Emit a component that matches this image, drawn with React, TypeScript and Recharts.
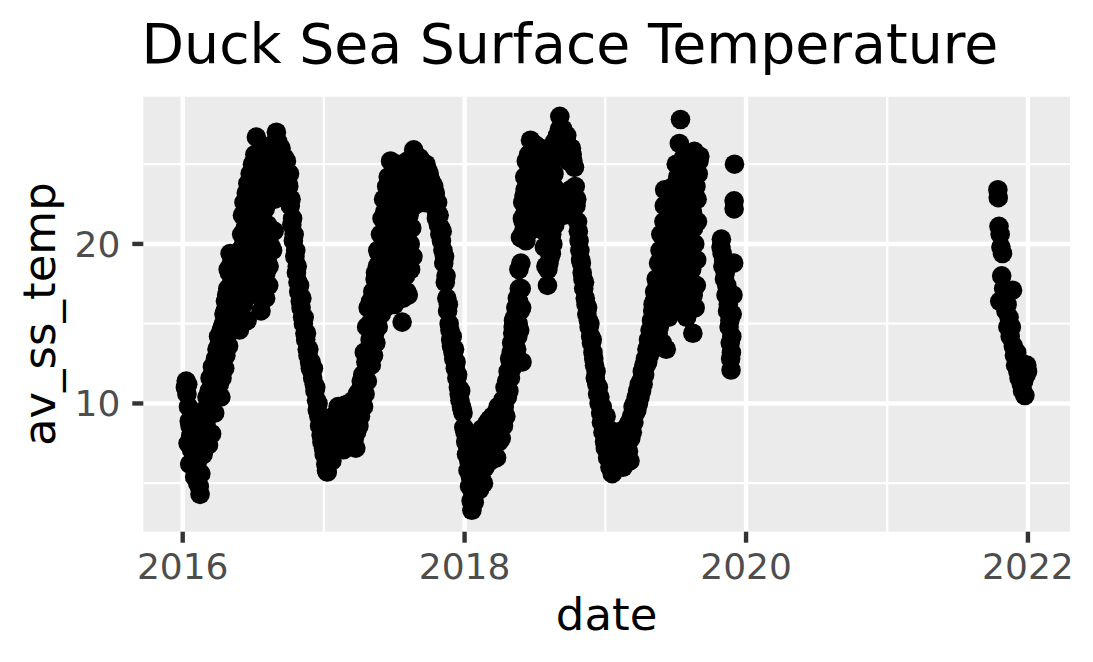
import React from 'react';
import { ScatterChart, Scatter, XAxis, YAxis, CartesianGrid } from 'recharts';

// daily sea surface temperature readings ("MM-DD", deg C)
const sst2016: [string, number][] = [
  ['01-08', 11.0], ['01-10', 11.4], ['01-12', 10.6], ['01-14', 11.2], ['01-15', 7.5], ['01-16', 9.8], ['01-18', 8.9], ['01-19', 6.2], ['01-20', 8.6], ['01-22', 8.0], ['01-24', 7.1], ['01-26', 6.3], ['01-28', 7.6], ['01-30', 6.0],
  ['02-01', 5.4], ['02-03', 7.0], ['02-05', 8.5], ['02-07', 6.2], ['02-09', 5.0], ['02-11', 7.8], ['02-13', 4.8], ['02-15', 4.3], ['02-17', 5.6], ['02-19', 7.2], ['02-21', 9.0], ['02-23', 6.8], ['02-25', 8.2], ['02-27', 9.6], ['02-29', 7.4],
  ['03-02', 8.6], ['03-04', 10.4], ['03-06', 9.2], ['03-08', 7.4], ['03-10', 10.8], ['03-12', 11.6], ['03-14', 9.6], ['03-16', 8.1], ['03-18', 12.3], ['03-20', 10.5], ['03-22', 11.9], ['03-24', 9.4], ['03-26', 12.8], ['03-28', 11.0], ['03-30', 13.4],
  ['04-01', 12.0], ['04-03', 14.2], ['04-05', 11.2], ['04-07', 13.0], ['04-09', 10.4], ['04-11', 12.6], ['04-13', 14.8], ['04-15', 13.4], ['04-17', 15.6], ['04-19', 12.2], ['04-21', 16.4], ['04-23', 14.0], ['04-25', 15.2], ['04-27', 17.2], ['04-29', 13.6],
  ['04-02', 13.0], ['04-04', 11.8], ['04-06', 13.8], ['04-08', 12.4], ['04-10', 14.6], ['04-12', 11.6], ['04-14', 13.0], ['04-16', 15.0], ['04-18', 14.2], ['04-20', 15.8], ['04-22', 13.0], ['04-24', 16.8], ['04-26', 14.6], ['04-28', 18.4], ['04-30', 16.2],
  ['05-01', 18.2], ['05-03', 19.4], ['05-05', 16.0], ['05-07', 17.6], ['05-09', 14.6], ['05-11', 15.8], ['05-13', 18.6], ['05-15', 17.0], ['05-17', 15.0], ['05-19', 19.0], ['05-21', 16.4], ['05-23', 19.4], ['05-25', 18.0], ['05-27', 14.6], ['05-29', 19.6], ['05-31', 17.4],
  ['05-02', 17.2], ['05-04', 15.2], ['05-06', 18.8], ['05-08', 16.6], ['05-10', 17.6], ['05-12', 16.8], ['05-14', 15.6], ['05-16', 18.0], ['05-18', 16.2], ['05-20', 17.8], ['05-22', 18.6], ['05-24', 16.0], ['05-26', 19.2], ['05-28', 17.0], ['05-30', 15.4],
  ['06-02', 20.6], ['06-04', 21.8], ['06-06', 16.2], ['06-08', 22.6], ['06-10', 18.4], ['06-12', 20.4], ['06-14', 23.2], ['06-16', 15.2], ['06-18', 23.8], ['06-20', 21.2], ['06-22', 17.6], ['06-24', 24.4], ['06-26', 19.8], ['06-28', 22.4], ['06-30', 25.0],
  ['06-01', 18.8], ['06-03', 17.0], ['06-05', 19.4], ['06-07', 20.0], ['06-09', 17.8], ['06-11', 21.0], ['06-13', 19.0], ['06-15', 22.0], ['06-17', 18.0], ['06-19', 20.8], ['06-21', 22.8], ['06-23', 16.8], ['06-25', 21.6], ['06-27', 23.4], ['06-29', 18.6],
  ['07-02', 23.6], ['07-04', 20.6], ['07-06', 25.6], ['07-08', 18.2], ['07-10', 26.7], ['07-12', 22.8], ['07-14', 24.6], ['07-16', 16.8], ['07-18', 25.2], ['07-20', 21.6], ['07-22', 15.8], ['07-24', 23.4], ['07-26', 19.2], ['07-28', 25.8], ['07-30', 17.6],
  ['07-01', 21.0], ['07-03', 24.2], ['07-05', 17.4], ['07-07', 22.4], ['07-09', 19.8], ['07-11', 25.0], ['07-13', 20.2], ['07-15', 17.8], ['07-17', 23.0], ['07-19', 18.8], ['07-21', 24.0], ['07-23', 20.4], ['07-25', 17.0], ['07-27', 22.0], ['07-29', 24.6], ['07-31', 20.8],
  ['08-01', 24.4], ['08-03', 16.6], ['08-05', 26.0], ['08-07', 19.0], ['08-09', 22.6], ['08-11', 17.4], ['08-13', 25.4], ['08-15', 20.6], ['08-17', 24.0], ['08-19', 26.2], ['08-21', 19.6], ['08-23', 23.6], ['08-25', 20.8], ['08-27', 25.6], ['08-29', 23.4], ['08-31', 27.0],
  ['08-02', 22.2], ['08-04', 18.2], ['08-06', 23.8], ['08-08', 21.2], ['08-10', 24.8], ['08-12', 18.6], ['08-14', 22.8], ['08-16', 25.0], ['08-18', 19.8], ['08-20', 23.2], ['08-22', 25.8], ['08-24', 24.8], ['08-26', 22.8], ['08-28', 26.2], ['08-30', 24.0],
  ['09-02', 24.8], ['09-04', 26.4], ['09-06', 23.4], ['09-08', 25.0], ['09-10', 23.2], ['09-12', 26.0], ['09-14', 23.0], ['09-16', 24.2], ['09-18', 25.4], ['09-20', 24.0], ['09-22', 24.6], ['09-24', 23.0], ['09-26', 25.2], ['09-28', 23.6], ['09-30', 23.8],
  ['09-01', 25.6], ['09-03', 23.8], ['09-05', 25.8], ['09-07', 24.4], ['09-09', 26.0], ['09-11', 24.0], ['09-13', 25.0], ['09-15', 23.6], ['09-17', 24.8], ['09-19', 23.4], ['09-21', 25.4], ['09-23', 24.0], ['09-25', 23.4], ['09-27', 24.6], ['09-29', 22.8],
  ['10-02', 23.6], ['10-04', 24.4], ['10-06', 22.4], ['10-08', 22.8], ['10-10', 21.2], ['10-12', 21.6], ['10-14', 20.2], ['10-16', 20.6], ['10-18', 19.2], ['10-20', 19.6], ['10-22', 18.2], ['10-24', 18.6], ['10-26', 17.6], ['10-28', 17.0], ['10-30', 17.4],
  ['11-01', 16.4], ['11-03', 16.0], ['11-05', 16.6], ['11-07', 15.4], ['11-09', 15.0], ['11-11', 15.4], ['11-13', 14.4], ['11-15', 14.0], ['11-17', 14.4], ['11-19', 13.4], ['11-21', 13.0], ['11-23', 13.4], ['11-25', 12.6], ['11-27', 12.2], ['11-29', 12.6],
  ['12-01', 12.0], ['12-03', 11.6], ['12-05', 12.2], ['12-07', 11.2], ['12-09', 10.8], ['12-11', 11.0], ['12-13', 10.2], ['12-15', 9.6], ['12-17', 10.0], ['12-19', 9.2], ['12-21', 8.6], ['12-23', 9.0], ['12-25', 8.0], ['12-27', 7.6], ['12-29', 8.2], ['12-31', 7.2],
];

const sst2017: [string, number][] = [
  ['01-02', 6.8], ['01-04', 7.4], ['01-06', 6.2], ['01-08', 5.8], ['01-10', 5.7], ['01-12', 6.6], ['01-14', 7.8], ['01-16', 7.0], ['01-18', 8.4], ['01-20', 7.2], ['01-22', 6.4], ['01-24', 8.0], ['01-26', 9.2], ['01-28', 7.6], ['01-30', 8.8],
  ['02-01', 7.4], ['02-03', 9.0], ['02-05', 8.0], ['02-07', 9.8], ['02-09', 7.2], ['02-11', 8.6], ['02-13', 9.4], ['02-15', 7.6], ['02-17', 8.2], ['02-19', 9.6], ['02-21', 7.1], ['02-23', 8.8], ['02-25', 9.9], ['02-27', 8.0],
  ['03-01', 9.2], ['03-03', 7.8], ['03-05', 8.6], ['03-07', 10.0], ['03-09', 7.3], ['03-11', 8.4], ['03-13', 9.6], ['03-15', 7.4], ['03-17', 8.8], ['03-19', 10.2], ['03-21', 7.8], ['03-23', 9.0], ['03-25', 7.2], ['03-27', 8.2], ['03-29', 10.6], ['03-31', 9.4],
  ['04-02', 8.6], ['04-04', 10.8], ['04-06', 9.2], ['04-08', 11.4], ['04-10', 10.0], ['04-12', 11.8], ['04-14', 9.8], ['04-16', 13.2], ['04-18', 10.6], ['04-20', 12.6], ['04-22', 14.8], ['04-24', 11.4], ['04-26', 16.0], ['04-28', 13.0], ['04-30', 15.0],
  ['05-02', 16.4], ['05-04', 12.4], ['05-06', 14.6], ['05-08', 17.0], ['05-10', 13.0], ['05-12', 15.6], ['05-14', 17.8], ['05-16', 13.8], ['05-18', 16.4], ['05-20', 18.6], ['05-22', 14.8], ['05-24', 19.4], ['05-26', 16.8], ['05-28', 20.6], ['05-30', 15.6],
  ['05-01', 14.0], ['05-03', 15.0], ['05-05', 16.2], ['05-07', 13.6], ['05-09', 15.8], ['05-11', 16.8], ['05-13', 14.4], ['05-15', 18.2], ['05-17', 15.4], ['05-19', 17.4], ['05-21', 19.6], ['05-23', 17.0], ['05-25', 18.2], ['05-27', 16.2], ['05-29', 19.0], ['05-31', 17.6],
  ['06-01', 21.6], ['06-03', 17.6], ['06-05', 22.8], ['06-07', 19.6], ['06-09', 16.0], ['06-11', 21.0], ['06-13', 23.6], ['06-15', 18.2], ['06-17', 24.2], ['06-19', 20.6], ['06-21', 16.4], ['06-23', 25.2], ['06-25', 22.0], ['06-27', 18.8], ['06-29', 24.0],
  ['06-02', 19.0], ['06-04', 20.6], ['06-06', 17.0], ['06-08', 22.0], ['06-10', 18.6], ['06-12', 20.0], ['06-14', 21.8], ['06-16', 23.0], ['06-18', 19.4], ['06-20', 22.6], ['06-22', 24.0], ['06-24', 20.4], ['06-26', 23.4], ['06-28', 21.2], ['06-30', 17.6],
  ['07-01', 21.4], ['07-03', 16.2], ['07-05', 24.6], ['07-07', 19.0], ['07-09', 23.0], ['07-11', 17.4], ['07-13', 25.0], ['07-15', 20.4], ['07-17', 22.6], ['07-19', 16.6], ['07-21', 24.2], ['07-23', 15.1], ['07-25', 21.2], ['07-27', 18.0], ['07-29', 24.8], ['07-31', 19.8],
  ['07-02', 23.8], ['07-04', 20.0], ['07-06', 22.0], ['07-08', 21.6], ['07-10', 18.6], ['07-12', 24.0], ['07-14', 22.4], ['07-16', 19.6], ['07-18', 24.4], ['07-20', 17.8], ['07-22', 20.8], ['07-24', 23.6], ['07-26', 16.6], ['07-28', 22.2], ['07-30', 20.8],
  ['08-02', 23.4], ['08-04', 17.0], ['08-06', 25.2], ['08-08', 16.8], ['08-10', 21.8], ['08-12', 24.0], ['08-14', 18.4], ['08-16', 22.6], ['08-18', 25.4], ['08-20', 19.2], ['08-22', 25.9], ['08-24', 22.4], ['08-26', 22.6], ['08-28', 24.6], ['08-30', 22.8],
  ['08-01', 18.0], ['08-03', 24.6], ['08-05', 20.6], ['08-07', 23.0], ['08-09', 18.6], ['08-11', 25.0], ['08-13', 20.0], ['08-15', 24.0], ['08-17', 21.0], ['08-19', 23.4], ['08-21', 24.6], ['08-23', 23.2], ['08-25', 24.8], ['08-27', 23.4], ['08-29', 25.4], ['08-31', 24.0],
  ['09-01', 23.6], ['09-03', 25.0], ['09-05', 22.6], ['09-07', 24.4], ['09-09', 22.8], ['09-11', 25.2], ['09-13', 22.8], ['09-15', 23.8], ['09-17', 24.8], ['09-19', 22.6], ['09-21', 23.4], ['09-23', 25.0], ['09-25', 22.6], ['09-27', 24.2], ['09-29', 23.0],
  ['09-02', 24.2], ['09-04', 23.4], ['09-06', 25.4], ['09-08', 23.6], ['09-10', 24.6], ['09-12', 23.4], ['09-14', 24.2], ['09-16', 25.0], ['09-18', 23.8], ['09-20', 24.4], ['09-22', 23.2], ['09-24', 24.0], ['09-26', 23.6], ['09-28', 24.6], ['09-30', 23.8],
  ['10-01', 24.4], ['10-03', 23.2], ['10-05', 24.0], ['10-07', 22.8], ['10-09', 23.8], ['10-11', 23.0], ['10-13', 23.6], ['10-15', 22.4], ['10-17', 23.2], ['10-19', 22.6], ['10-21', 21.8], ['10-23', 22.6], ['10-25', 21.2], ['10-27', 21.8], ['10-29', 20.6], ['10-31', 21.0],
  ['10-02', 23.6], ['10-04', 24.0], ['10-06', 23.2], ['10-08', 23.6], ['10-10', 22.8], ['10-12', 23.4], ['10-14', 22.8], ['10-16', 23.0], ['10-18', 22.2], ['10-20', 21.6],
  ['11-02', 20.2], ['11-04', 20.8], ['11-06', 19.6], ['11-08', 18.8], ['11-10', 19.2], ['11-12', 17.6], ['11-14', 18.0], ['11-16', 16.6], ['11-18', 15.8], ['11-20', 16.2], ['11-22', 15.0], ['11-24', 14.6], ['11-26', 14.0], ['11-28', 13.6], ['11-30', 14.2],
  ['12-02', 13.2], ['12-04', 12.8], ['12-06', 13.4], ['12-08', 12.2], ['12-10', 12.6], ['12-12', 11.6], ['12-14', 11.8], ['12-16', 11.0], ['12-18', 10.6], ['12-20', 10.2], ['12-22', 10.8], ['12-24', 9.8], ['12-26', 9.6], ['12-28', 9.4], ['12-30', 8.5],
];

const sst2018: [string, number][] = [
  ['01-02', 8.2], ['01-04', 7.6], ['01-06', 6.8], ['01-08', 7.4], ['01-10', 5.8], ['01-12', 6.4], ['01-14', 4.8], ['01-16', 5.4], ['01-18', 3.9], ['01-20', 3.3], ['01-22', 4.4], ['01-24', 5.2], ['01-26', 3.8], ['01-28', 4.6], ['01-30', 6.0],
  ['02-01', 7.0], ['02-03', 5.2], ['02-05', 8.0], ['02-07', 6.2], ['02-09', 4.6], ['02-11', 7.4], ['02-13', 5.6], ['02-15', 8.4], ['02-17', 6.6], ['02-19', 5.0], ['02-21', 7.8], ['02-23', 6.0], ['02-25', 8.6], ['02-27', 7.2],
  ['03-01', 8.8], ['03-03', 6.6], ['03-05', 7.8], ['03-07', 9.0], ['03-09', 6.4], ['03-11', 8.2], ['03-13', 7.0], ['03-15', 9.2], ['03-17', 6.8], ['03-19', 8.0], ['03-21', 7.4], ['03-23', 9.4], ['03-25', 6.6], ['03-27', 8.6], ['03-29', 9.8], ['03-31', 7.6],
  ['04-02', 8.4], ['04-04', 9.6], ['04-06', 7.8], ['04-08', 9.0], ['04-10', 10.2], ['04-12', 8.6], ['04-14', 9.8], ['04-16', 11.0], ['04-18', 9.2], ['04-20', 11.4], ['04-22', 10.4], ['04-24', 12.0], ['04-26', 10.8], ['04-28', 12.8], ['04-30', 11.6],
  ['05-02', 13.2], ['05-04', 12.2], ['05-06', 14.4], ['05-08', 15.2], ['05-10', 12.8], ['05-12', 14.0], ['05-14', 16.0], ['05-16', 13.4], ['05-18', 16.6], ['05-20', 15.0], ['05-22', 18.4], ['05-24', 14.6], ['05-26', 20.4], ['05-28', 17.2], ['05-30', 12.6],
  ['05-01', 12.6], ['05-03', 13.8], ['05-05', 13.0], ['05-07', 14.8], ['05-09', 13.6], ['05-11', 15.4], ['05-13', 14.6], ['05-15', 13.0], ['05-17', 15.6], ['05-19', 14.2], ['05-21', 16.4], ['05-23', 17.2], ['05-25', 15.8], ['05-27', 18.8], ['05-29', 16.0], ['05-31', 21.6],
  ['06-01', 22.6], ['06-03', 20.8], ['06-05', 21.8], ['06-07', 23.4], ['06-09', 20.2], ['06-11', 24.0], ['06-13', 21.2], ['06-15', 23.0], ['06-17', 24.8], ['06-19', 20.8], ['06-21', 26.5], ['06-23', 22.4], ['06-25', 25.0], ['06-27', 21.0], ['06-29', 23.8],
  ['06-02', 21.4], ['06-04', 23.0], ['06-06', 24.2], ['06-08', 22.0], ['06-10', 25.2], ['06-12', 23.2], ['06-14', 21.8], ['06-16', 25.6], ['06-18', 22.8], ['06-20', 24.4], ['06-22', 21.6], ['06-24', 23.6], ['06-26', 26.0], ['06-28', 22.6], ['06-30', 24.8],
  ['07-01', 25.4], ['07-03', 21.6], ['07-05', 24.2], ['07-07', 22.8], ['07-09', 25.8], ['07-11', 21.0], ['07-13', 24.6], ['07-15', 23.2], ['07-17', 26.0], ['07-19', 21.8], ['07-21', 24.0], ['07-23', 22.2], ['07-25', 25.4], ['07-27', 19.8], ['07-29', 23.6], ['07-31', 18.6],
  ['07-02', 23.0], ['07-04', 26.2], ['07-06', 21.4], ['07-08', 24.4], ['07-10', 23.0], ['07-12', 25.0], ['07-14', 21.8], ['07-16', 24.0], ['07-18', 22.6], ['07-20', 25.6], ['07-22', 21.2], ['07-24', 23.8], ['07-26', 20.8], ['07-28', 25.0], ['07-30', 21.8],
  ['08-02', 22.4], ['08-04', 17.4], ['08-06', 24.8], ['08-08', 18.8], ['08-10', 26.0], ['08-12', 21.4], ['08-14', 19.4], ['08-16', 25.2], ['08-18', 20.0], ['08-20', 23.6], ['08-22', 26.4], ['08-24', 22.2], ['08-26', 25.6], ['08-28', 22.0], ['08-30', 26.8],
  ['08-01', 19.8], ['08-03', 23.8], ['08-05', 18.4], ['08-07', 21.6], ['08-09', 24.0], ['08-11', 19.2], ['08-13', 23.0], ['08-15', 20.6], ['08-17', 26.0], ['08-19', 21.8], ['08-21', 24.4], ['08-23', 21.2], ['08-25', 23.0], ['08-27', 26.2], ['08-29', 22.8], ['08-31', 26.4],
  ['09-01', 23.2], ['09-03', 22.0], ['09-05', 28.0], ['09-07', 26.6], ['09-09', 22.8], ['09-11', 25.8], ['09-13', 27.2], ['09-15', 22.4], ['09-17', 26.2], ['09-19', 23.0], ['09-21', 25.6], ['09-23', 26.8], ['09-25', 22.6], ['09-27', 25.2], ['09-29', 26.0],
  ['09-02', 26.6], ['09-04', 27.2], ['09-06', 26.8], ['09-08', 22.4], ['09-10', 26.6], ['09-12', 22.8], ['09-14', 26.2], ['09-16', 21.8], ['09-18', 26.6], ['09-20', 22.6], ['09-22', 26.0], ['09-24', 22.2], ['09-26', 26.2], ['09-28', 23.0], ['09-30', 25.6],
  ['10-01', 25.8], ['10-03', 23.4], ['10-05', 26.0], ['10-07', 25.6], ['10-09', 25.2], ['10-11', 23.0], ['10-13', 24.8], ['10-15', 23.6], ['10-17', 22.4], ['10-19', 22.8], ['10-21', 21.4], ['10-23', 20.8], ['10-25', 20.2], ['10-27', 19.6], ['10-29', 19.0], ['10-31', 18.8],
  ['11-02', 18.2], ['11-04', 17.8], ['11-06', 17.2], ['11-08', 17.6], ['11-10', 16.6], ['11-12', 16.2], ['11-14', 15.6], ['11-16', 16.0], ['11-18', 15.2], ['11-20', 14.8], ['11-22', 15.0], ['11-24', 14.2], ['11-26', 13.8], ['11-28', 14.0], ['11-30', 13.2],
  ['12-02', 12.8], ['12-04', 12.4], ['12-06', 11.6], ['12-08', 12.0], ['12-10', 11.2], ['12-12', 10.6], ['12-14', 11.0], ['12-16', 10.0], ['12-18', 10.4], ['12-20', 9.4], ['12-22', 8.8], ['12-24', 9.8], ['12-26', 8.2], ['12-28', 9.0], ['12-30', 7.6],
];

const sst2019: [string, number][] = [
  ['01-01', 7.2], ['01-03', 9.2], ['01-05', 8.0], ['01-07', 6.6], ['01-09', 8.4], ['01-11', 7.0], ['01-13', 6.0], ['01-15', 7.6], ['01-17', 6.2], ['01-19', 5.6], ['01-21', 6.8], ['01-23', 5.8], ['01-25', 7.4], ['01-27', 6.4], ['01-29', 7.8], ['01-31', 6.2],
  ['02-02', 8.2], ['02-04', 7.0], ['02-06', 6.2], ['02-08', 7.6], ['02-10', 8.0], ['02-12', 6.6], ['02-14', 7.2], ['02-16', 6.0], ['02-18', 7.8], ['02-20', 6.8], ['02-22', 8.4], ['02-24', 6.4], ['02-26', 7.4], ['02-28', 8.6],
  ['03-02', 7.0], ['03-04', 8.8], ['03-06', 6.4], ['03-08', 7.8], ['03-10', 9.2], ['03-12', 8.2], ['03-14', 9.8], ['03-16', 8.8], ['03-18', 10.0], ['03-20', 9.4], ['03-22', 10.4], ['03-24', 9.6], ['03-26', 10.8], ['03-28', 10.0], ['03-30', 11.2],
  ['04-01', 10.4], ['04-03', 11.4], ['04-05', 10.8], ['04-07', 12.0], ['04-09', 11.2], ['04-11', 12.4], ['04-13', 11.8], ['04-15', 12.8], ['04-17', 12.4], ['04-19', 13.4], ['04-21', 12.6], ['04-23', 14.0], ['04-25', 13.0], ['04-27', 14.6], ['04-29', 13.6],
  ['05-01', 15.2], ['05-03', 13.4], ['05-05', 16.2], ['05-07', 14.4], ['05-09', 17.0], ['05-11', 15.6], ['05-13', 17.8], ['05-15', 13.6], ['05-17', 16.6], ['05-19', 18.8], ['05-21', 14.8], ['05-23', 19.6], ['05-25', 20.6], ['05-27', 16.8], ['05-29', 13.8], ['05-31', 18.4],
  ['05-02', 14.2], ['05-04', 15.8], ['05-06', 13.8], ['05-08', 16.4], ['05-10', 14.8], ['05-12', 16.0], ['05-14', 15.2], ['05-16', 17.4], ['05-18', 14.4], ['05-20', 17.0], ['05-22', 16.2], ['05-24', 18.0], ['05-26', 15.6], ['05-28', 18.8], ['05-30', 16.8],
  ['06-02', 21.4], ['06-04', 23.4], ['06-06', 17.6], ['06-08', 13.4], ['06-10', 20.0], ['06-12', 22.6], ['06-14', 15.4], ['06-16', 19.0], ['06-18', 23.0], ['06-20', 16.4], ['06-22', 21.6], ['06-24', 18.4], ['06-26', 23.6], ['06-28', 15.8], ['06-30', 20.8],
  ['06-01', 19.2], ['06-03', 22.4], ['06-05', 20.4], ['06-07', 16.6], ['06-09', 18.4], ['06-11', 21.0], ['06-13', 17.6], ['06-15', 22.2], ['06-17', 20.6], ['06-19', 18.0], ['06-21', 23.2], ['06-23', 19.6], ['06-25', 22.0], ['06-27', 17.8], ['06-29', 21.2],
  ['07-02', 22.2], ['07-04', 25.0], ['07-06', 17.2], ['07-08', 24.2], ['07-10', 19.4], ['07-12', 26.3], ['07-14', 21.6], ['07-15', 27.8], ['07-17', 16.0], ['07-19', 24.6], ['07-21', 20.2], ['07-23', 25.4], ['07-25', 18.0], ['07-27', 22.8], ['07-29', 25.0], ['07-31', 15.4],
  ['07-01', 19.0], ['07-03', 23.6], ['07-05', 21.2], ['07-07', 18.6], ['07-09', 23.4], ['07-11', 20.6], ['07-13', 24.6], ['07-16', 22.4], ['07-18', 19.2], ['07-20', 23.0], ['07-22', 17.0], ['07-24', 21.8], ['07-26', 24.2], ['07-28', 19.4], ['07-30', 23.2],
  ['08-02', 23.2], ['08-04', 17.4], ['08-06', 25.2], ['08-08', 19.6], ['08-10', 22.4], ['08-12', 16.2], ['08-14', 24.6], ['08-16', 14.4], ['08-18', 21.0], ['08-20', 25.8], ['08-22', 16.0], ['08-24', 23.6], ['08-26', 19.0], ['08-28', 21.4], ['08-30', 24.4],
  ['08-01', 20.4], ['08-03', 24.2], ['08-05', 18.8], ['08-07', 22.6], ['08-09', 20.8], ['08-11', 25.0], ['08-13', 18.4], ['08-15', 22.0], ['08-17', 16.8], ['08-19', 23.4], ['08-21', 20.0], ['08-23', 24.8], ['08-25', 17.4], ['08-27', 22.8], ['08-29', 25.2],
  ['09-01', 25.2], ['09-03', 25.5],
  ['10-28', 19.8], ['10-29', 20.3], ['10-31', 19.4], ['11-02', 18.6], ['11-04', 19.0], ['11-06', 17.8], ['11-08', 18.2], ['11-10', 16.8], ['11-12', 17.4], ['11-14', 15.8], ['11-16', 16.2], ['11-18', 14.8], ['11-20', 15.2], ['11-21', 13.8], ['11-22', 12.8], ['11-23', 12.1], ['11-24', 13.2], ['11-25', 14.2], ['11-26', 15.6], ['11-28', 16.8], ['11-30', 18.8],
  ['12-01', 22.2], ['12-01', 22.7], ['12-02', 25.0],
];

const sst2021: [string, number][] = [
  ['10-15', 23.4], ['10-16', 22.9], ['10-18', 21.1], ['10-20', 16.4], ['10-21', 20.6], ['10-23', 19.8], ['10-25', 18.0], ['10-27', 19.4], ['10-30', 17.2],
  ['11-02', 16.6], ['11-05', 15.8], ['11-08', 16.2], ['11-10', 14.8], ['11-13', 15.4], ['11-16', 14.2], ['11-19', 14.8], ['11-22', 17.1], ['11-24', 13.6], ['11-27', 13.0], ['11-30', 12.4],
  ['12-03', 13.2], ['12-06', 12.0], ['12-09', 11.6], ['12-12', 12.6], ['12-15', 11.2], ['12-18', 10.8], ['12-21', 11.4], ['12-24', 10.5], ['12-27', 11.8], ['12-29', 12.4], ['12-31', 12.0],
];

const majorYears = [2016, 2018, 2020, 2022];
const minorYears = [2017, 2019, 2021];
const majorTemps = [10, 20];
const minorTemps = [5, 15, 25];

const DAY = 86400000;
const yearStart = (y: number) => Date.UTC(y, 0, 1);

const toPoints = (year: number, rows: [string, number][]) =>
  rows.map(([md, temp]) => {
    const [m, d] = md.split('-').map(Number);
    return { date: Date.UTC(year, m - 1, d), av_ss_temp: temp };
  });

const points = [
  ...toPoints(2016, sst2016),
  ...toPoints(2017, sst2017),
  ...toPoints(2018, sst2018),
  ...toPoints(2019, sst2019),
  ...toPoints(2021, sst2021),
];

const xDomain = [yearStart(2016) - 102.2 * DAY, yearStart(2016) + 2301.1 * DAY];
const yDomain = [1.96, 29.23];

const FONT = '"DejaVu Sans", sans-serif';

const Dot = (props: any) => <circle cx={props.cx} cy={props.cy} r={9.8} fill="#000000" />;

export default function App() {
  return (
    <div style={{ position: 'absolute', left: 0, top: 0, width: 1093, height: 662, background: '#ffffff' }}>
      <ScatterChart width={1093} height={662} margin={{ top: 96.7, right: 23, bottom: 0, left: 0 }}>
        <CartesianGrid
          fill="#EBEBEB"
          stroke="#FFFFFF"
          strokeWidth={2.2}
          horizontalValues={minorTemps}
          verticalValues={minorYears.map(yearStart)}
        />
        <CartesianGrid
          stroke="#FFFFFF"
          strokeWidth={4.4}
          horizontalValues={majorTemps}
          verticalValues={majorYears.map(yearStart)}
        />
        <XAxis
          type="number"
          dataKey="date"
          domain={xDomain}
          allowDataOverflow
          ticks={majorYears.map(yearStart)}
          tickFormatter={(v: number) => String(new Date(v).getUTCFullYear())}
          height={130.3}
          axisLine={false}
          tickLine={{ stroke: '#333333', strokeWidth: 4.4 }}
          tickSize={11}
          tickMargin={11}
          tick={{ fill: '#4D4D4D', fontSize: 36, fontFamily: FONT }}
        />
        <YAxis
          type="number"
          dataKey="av_ss_temp"
          domain={yDomain}
          allowDataOverflow
          ticks={majorTemps}
          width={143.3}
          axisLine={false}
          tickLine={{ stroke: '#333333', strokeWidth: 4.4 }}
          tickSize={11}
          tickMargin={12}
          tick={{ fill: '#4D4D4D', fontSize: 36, fontFamily: FONT }}
        />
        <Scatter data={points} shape={Dot} isAnimationActive={false} />
      </ScatterChart>
      <svg
        width={1093}
        height={662}
        style={{ position: 'absolute', left: 0, top: 0, pointerEvents: 'none' }}
      >
        <text x={141.5} y={63} fontSize={55.3} fontFamily={FONT} fill="#000000">
          Duck Sea Surface Temperature
        </text>
        <text x={606.6} y={630} fontSize={45} fontFamily={FONT} fill="#000000" textAnchor="middle">
          date
        </text>
        <text
          x={55}
          y={314.2}
          fontSize={45}
          fontFamily={FONT}
          fill="#000000"
          textAnchor="middle"
          transform="rotate(-90 55 314.2)"
        >
          av_ss_temp
        </text>
      </svg>
    </div>
  );
}
